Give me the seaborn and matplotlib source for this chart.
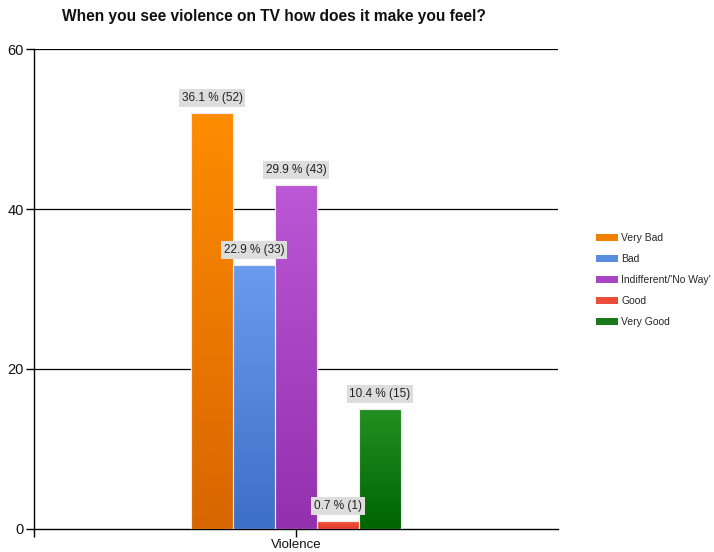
import numpy as np
import pandas as pd
import matplotlib
matplotlib.use("Agg")
import matplotlib.pyplot as plt
import seaborn as sns
from matplotlib.colors import LinearSegmentedColormap
from matplotlib.patches import Rectangle

# Survey answers
category = ["Violence"]
responses = ["Very Bad", "Bad", "Indifferent/'No Way'", "Good", "Very Good"]
counts = [52, 33, 43, 1, 15]
y_ticks = [0, 20, 40, 60]
title = "When you see violence on TV how does it make you feel?"

# Top / bottom colours of the shaded bars
top_colors = ["#FF8C00", "#6A9BEE", "#BC57D6", "#F2593E", "#239023"]
bottom_colors = ["#D86600", "#3C6FC6", "#9330AE", "#E03A28", "#006400"]
legend_colors = ["#F08000", "#5A8CE0", "#A845C2", "#EA4E38", "#1A7A1A"]

total = sum(counts)
df = pd.DataFrame({
    "question": category * len(responses),
    "response": responses,
    "count": counts,
})

sns.set_theme(style="white")
plt.rcParams["font.family"] = ["Liberation Sans", "DejaVu Sans"]

fig = plt.figure(figsize=(7.14, 5.52), dpi=100)
ax = fig.add_axes([34 / 714, 23 / 552, 524 / 714, 480 / 552])

sns.barplot(data=df, x="question", y="count", hue="response",
            hue_order=responses, palette=legend_colors, width=0.4,
            edgecolor="#EDEDED", linewidth=0.8, legend=False, ax=ax,
            zorder=3)

# Vertical gradient fill on each bar, then a value box above it
grad = np.linspace(0, 1, 256).reshape(-1, 1)
for patch, c_top, c_bot, n in zip(ax.patches, top_colors, bottom_colors, counts):
    x0, w, h = patch.get_x(), patch.get_width(), patch.get_height()
    cmap = LinearSegmentedColormap.from_list("g", [c_bot, c_top])
    im = ax.imshow(grad, cmap=cmap, origin="lower", aspect="auto",
                   extent=(x0, x0 + w, 0, h), zorder=3.5)
    im.set_clip_path(patch)
    ax.add_patch(Rectangle((x0, 0), w, h, fill=False, edgecolor="#EDEDED",
                           linewidth=0.8, zorder=4))
    ax.annotate(f"{n / total * 100:.1f} % ({n})", xy=(x0 + w / 2, h),
                xytext=(0, 6.5), textcoords="offset points", ha="center",
                va="bottom", fontsize=8.5, color="#222222", zorder=5,
                bbox=dict(boxstyle="square,pad=0.22", fc="#DDDDDD",
                          ec="none"))

ax.set_xlim(-0.5, 0.5)
ax.set_ylim(0, 60)
ax.set_yticks(y_ticks)
ax.set_yticklabels([str(t) for t in y_ticks], fontsize=10.5)
ax.set_xticks([0])
ax.set_xticklabels(category, fontsize=9.5)
ax.set_xticks([-0.5], minor=True)
ax.tick_params(axis="both", which="both", direction="out", length=6,
               width=1, color="black", labelcolor="#111111", pad=1.5,
               bottom=True, left=True)
ax.set_xlabel("")
ax.set_ylabel("")
ax.grid(False)
for y in y_ticks[1:]:
    ax.axhline(y, color="black", linewidth=0.9, zorder=1)
for side in ["top", "right"]:
    ax.spines[side].set_visible(False)
for side in ["left", "bottom"]:
    ax.spines[side].set_color("black")
    ax.spines[side].set_linewidth(1)

handles = [Rectangle((0, 0), 1, 1, fc=c, ec="none") for c in legend_colors]
fig.legend(handles, responses, loc="upper left",
           bbox_to_anchor=(592 / 714, 1 - 229 / 552), frameon=False,
           fontsize=7.5, handlelength=2.1, handleheight=0.62,
           handletextpad=0.3, labelspacing=1.05, borderpad=0.4,
           borderaxespad=0.0)

fig.text(62 / 714, 1 - 17 / 552, title, fontsize=11.2, fontweight="bold",
         va="center", ha="left", color="#111111")

fig.savefig("out.png", dpi=100, facecolor="white")
